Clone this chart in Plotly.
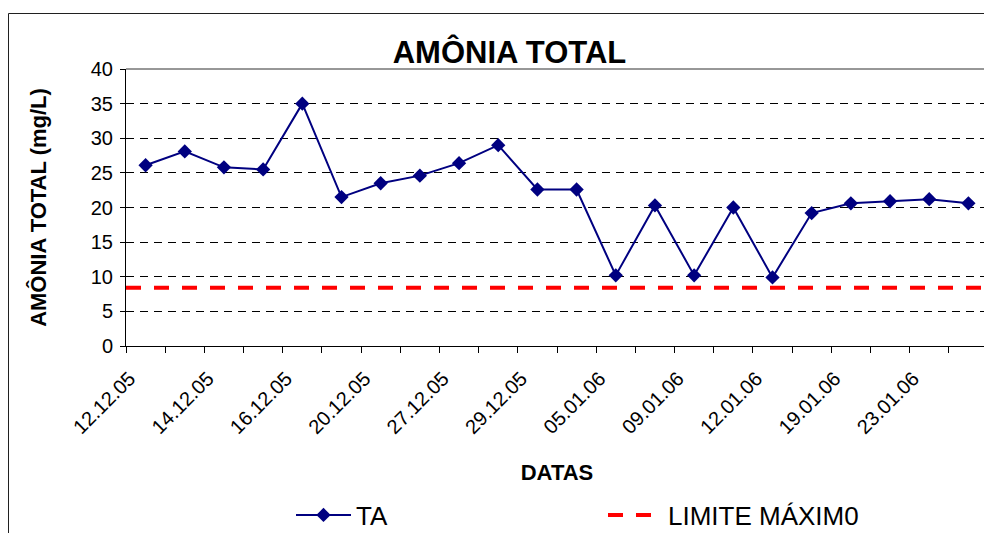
import plotly.graph_objects as go

# ---- data ----
tick_labels = ["12.12.05", "14.12.05", "16.12.05", "20.12.05", "27.12.05", "29.12.05",
               "05.01.06", "09.01.06", "12.01.06", "19.01.06", "23.01.06"]
ta_values = [26.1, 28.1, 25.8, 25.5, 35.0, 21.5, 23.5, 24.6, 26.4, 29.0, 22.6,
             22.6, 10.2, 20.3, 10.2, 20.0, 9.9, 19.2, 20.6, 20.9, 21.2, 20.6]
limit_value = 8.4
series_names = ["TA", "LIMITE MÁXIM0"]
y_ticks = [0, 5, 10, 15, 20, 25, 30, 35, 40]

n = len(ta_values)
x_idx = list(range(n))
label_step = 2
tickvals = [i * label_step for i in range(len(tick_labels))]

FONT = "Arial, Liberation Sans, sans-serif"

# page body has an 8px margin; work in reference-pixel coordinates and subtract it
OFF = 8
W, H = 992 - OFF, 533 - OFF
L, R, T, B = 126 - OFF, 988 - OFF, 69 - OFF, 346 - OFF
pw, ph = R - L, B - T


def px_x(p):
    return (p - OFF - L) / pw


def px_y(p):
    return (B - (p - OFF)) / ph


fig = go.Figure()

fig.add_trace(go.Scatter(
    x=[-0.5, n - 0.5], y=[limit_value, limit_value],
    mode="lines", name=series_names[1],
    line=dict(color="#FF0000", width=4, dash="15px,13px"),
))

fig.add_trace(go.Scatter(
    x=x_idx, y=ta_values, mode="lines+markers", name=series_names[0],
    line=dict(color="#000080", width=2),
    marker=dict(symbol="diamond", size=11, color="#000080"),
))

fig.update_layout(
    width=W, height=H,
    margin=dict(l=L, r=W - R, t=T, b=H - B, autoexpand=False),
    paper_bgcolor="white", plot_bgcolor="white",
    font=dict(family=FONT, color="black", size=20),
    title=dict(text="<b>AMÔNIA TOTAL</b>", font=dict(size=31, family=FONT, color="black"),
               x=(509.5 - OFF) / W, xref="container", xanchor="center",
               y=1 - (52 - OFF) / H, yref="container", yanchor="middle"),
    showlegend=True,
    legend=dict(orientation="h", traceorder="reversed",
                x=px_x(291), xanchor="left", y=px_y(515), yanchor="middle",
                font=dict(size=26, family=FONT, color="black"),
                itemwidth=55, entrywidth=242, entrywidthmode="pixels",
                bgcolor="rgba(0,0,0,0)"),
    xaxis=dict(
        range=[-0.5, n - 0.5], showgrid=False, zeroline=False, automargin=False,
        showline=True, linecolor="black", linewidth=1,
        tickmode="array", tickvals=tickvals, ticktext=tick_labels,
        tickangle=-45, ticks="", tickfont=dict(size=20, family=FONT),
        ticklabelstandoff=12, ticklabelshift=-16,
        minor=dict(ticks="outside", tick0=-0.5, dtick=1, ticklen=6,
                   tickcolor="black", tickwidth=1, showgrid=False),
        title=dict(text="<b>DATAS</b>", font=dict(size=22, family=FONT), standoff=27),
    ),
    yaxis=dict(
        range=[0, 40], tickmode="array", tickvals=y_ticks, automargin=False,
        showgrid=True, gridcolor="black", gridwidth=1, griddash="8px,6px",
        zeroline=False, showline=True, linecolor="black", linewidth=1,
        ticks="outside", ticklen=5, tickcolor="black",
        tickfont=dict(size=20, family=FONT), ticklabelstandoff=3,
        title=dict(text="<b>AMÔNIA TOTAL (mg/L)</b>", font=dict(size=22, family=FONT),
                   standoff=38),
    ),
    shapes=[
        # plot-area border top and right
        dict(type="line", xref="paper", yref="paper", x0=0, x1=1, y0=1, y1=1,
             line=dict(color="#303030", width=1)),
        dict(type="line", xref="paper", yref="paper", x0=1, x1=1, y0=0, y1=1,
             line=dict(color="#808080", width=2)),
        # chart-area outer border (left and top edges are the only visible ones)
        dict(type="line", xref="paper", yref="paper",
             x0=px_x(8.5), x1=px_x(8.5), y0=px_y(13.5), y1=px_y(540),
             line=dict(color="#202020", width=1), layer="below"),
        dict(type="line", xref="paper", yref="paper",
             x0=px_x(8.5), x1=px_x(992), y0=px_y(13.5), y1=px_y(13.5),
             line=dict(color="#202020", width=1), layer="below"),
    ],
)

fig.write_html("out.html")
